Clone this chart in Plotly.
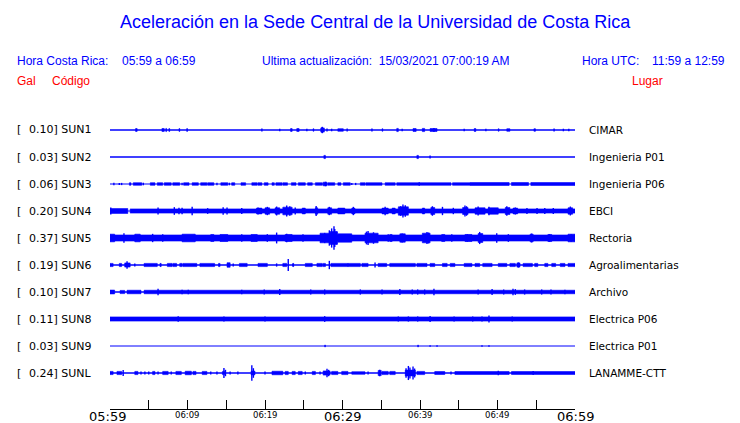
import plotly.graph_objects as go

# ---------------- data ----------------
TITLE = "Aceleración en la Sede Central de la Universidad de Costa Rica"
HORA_CR = "05:59 a 06:59"
HORA_UTC = "11:59 a 12:59"
ULTIMA = "15/03/2021 07:00:19 AM"

STATIONS = ["SUN1", "SUN2", "SUN3", "SUN4", "SUN5", "SUN6", "SUN7", "SUN8", "SUN9", "SUNL"]
SCALE_GAL = [0.10, 0.03, 0.06, 0.20, 0.37, 0.19, 0.10, 0.11, 0.03, 0.24]
PLACES = ["CIMAR", "Ingenieria P01", "Ingenieria P06", "EBCI", "Rectoria",
          "Agroalimentarias", "Archivo", "Electrica P06", "Electrica P01", "LANAMME-CTT"]

# time axis (minutes after 05:59)
TICK_MINUTES = [0, 5, 10, 15, 20, 25, 30, 35, 40, 45, 50, 55, 60]
MAJOR_MINUTES = [0, 30, 60]
MAJOR_LABELS = ["05:59", "06:29", "06:59"]
MINOR_MINUTES = [10, 20, 40, 50]
MINOR_LABELS = ["06:09", "06:19", "06:39", "06:49"]

# envelopes: blocks (t_start, t_end, half-amplitude gal), spikes (t, half-amplitude gal)
SUN1_BLOCKS = [(3.3, 3.5, 0.045), (6.7, 7.0, 0.045), (7.2, 7.3, 0.05), (7.6, 7.7, 0.045),
               (8.9, 9.0, 0.045), (9.9, 10.0, 0.045), (23.3, 23.5, 0.045), (24.1, 24.4, 0.045),
               (26.2, 26.3, 0.04), (27.2, 27.6, 0.06), (29.4, 30.1, 0.04), (35.1, 35.2, 0.04),
               (37.0, 37.2, 0.05), (39.1, 39.5, 0.045), (40.3, 40.6, 0.05), (41.3, 42.2, 0.045),
               (47.0, 47.2, 0.045), (50.1, 50.2, 0.04), (51.2, 51.6, 0.04), (54.7, 54.9, 0.04)]
SUN1_SPIKES = [(19.6, 0.05), (21.9, 0.04), (25.4, 0.04), (27.3, 0.08), (27.4, 0.10), (27.6, 0.07),
               (28.0, 0.05), (28.6, 0.04), (30.6, 0.05), (33.8, 0.05), (37.7, 0.04), (41.8, 0.06),
               (45.7, 0.04), (48.5, 0.04), (57.3, 0.05), (58.5, 0.04), (59.2, 0.04)]

SUN2_BLOCKS = [(27.6, 27.8, 0.05), (39.6, 39.8, 0.05)]
SUN2_SPIKES = [(41.3, 0.05)]

SUN3_BLOCKS = [(2.5, 2.7, 0.04), (3.0, 4.1, 0.04), (5.2, 5.8, 0.04), (6.1, 6.8, 0.04),
               (7.0, 7.9, 0.04), (8.1, 9.0, 0.04), (9.5, 10.2, 0.04), (10.6, 11.4, 0.04),
               (11.7, 12.5, 0.04), (12.6, 13.4, 0.04), (14.3, 15.2, 0.04), (15.7, 16.1, 0.04),
               (16.9, 17.5, 0.04), (18.3, 19.0, 0.04), (19.1, 19.6, 0.04), (19.9, 20.4, 0.04),
               (20.9, 21.2, 0.04), (21.4, 22.2, 0.04), (22.3, 22.9, 0.04), (23.4, 24.0, 0.04),
               (24.3, 25.2, 0.04), (25.5, 26.1, 0.04), (26.5, 27.4, 0.04), (27.5, 28.0, 0.055),
               (28.1, 29.0, 0.04), (29.4, 29.8, 0.04), (30.1, 31.0, 0.04), (32.3, 32.9, 0.04),
               (33.0, 35.1, 0.04), (35.5, 36.8, 0.04), (37.0, 44.0, 0.04), (44.2, 46.5, 0.04),
               (46.5, 51.5, 0.045), (51.8, 54.0, 0.045), (54.3, 60.0, 0.045)]
SUN3_SPIKES = [(0.5, 0.04), (1.2, 0.035), (1.5, 0.035), (4.3, 0.04), (9.3, 0.04), (13.8, 0.04),
               (15.4, 0.04), (31.2, 0.035), (31.7, 0.035), (27.8, 0.07), (39.9, 0.055)]

SUN4_BLOCKS = [(0.0, 2.3, 0.075), (2.6, 60.0, 0.065), (18.9, 19.6, 0.09), (20.0, 20.6, 0.10),
               (21.3, 21.9, 0.10), (22.3, 23.5, 0.12), (24.8, 25.2, 0.09), (26.5, 26.8, 0.10),
               (28.1, 28.6, 0.10), (29.4, 30.3, 0.09), (31.2, 31.6, 0.09), (35.1, 35.9, 0.09),
               (36.4, 36.8, 0.09), (37.2, 38.5, 0.13), (40.3, 40.6, 0.09), (41.4, 41.9, 0.11),
               (45.5, 46.2, 0.11), (47.1, 48.4, 0.10), (48.8, 50.1, 0.10), (51.0, 51.6, 0.11),
               (52.0, 52.6, 0.09), (59.1, 59.7, 0.10)]
SUN4_SPIKES = [(0.1, 0.11), (6.2, 0.11), (8.3, 0.12), (8.9, 0.10), (9.3, 0.10), (10.6, 0.13),
               (12.6, 0.09), (14.6, 0.12), (15.1, 0.11), (17.0, 0.09), (19.1, 0.11), (20.3, 0.13),
               (21.5, 0.14), (22.8, 0.17), (23.2, 0.15), (23.9, 0.11), (26.6, 0.16), (28.3, 0.13),
               (31.4, 0.13), (35.5, 0.13), (37.5, 0.15), (37.8, 0.20), (38.1, 0.18), (41.6, 0.15),
               (42.9, 0.13), (44.3, 0.10), (45.8, 0.17), (46.0, 0.15), (47.5, 0.14), (48.9, 0.13),
               (51.2, 0.15), (52.3, 0.11), (53.8, 0.09), (55.1, 0.09), (56.1, 0.09), (57.2, 0.09),
               (59.4, 0.14)]

SUN5_BLOCKS = [(0.0, 60.0, 0.095), (0.0, 0.6, 0.12), (3.2, 3.9, 0.12), (9.3, 11.0, 0.12),
               (13.0, 13.4, 0.11), (14.2, 15.2, 0.11), (18.2, 19.0, 0.11), (22.6, 23.5, 0.11),
               (27.1, 28.4, 0.15), (28.4, 29.3, 0.20), (29.4, 31.2, 0.13), (32.9, 34.6, 0.15),
               (36.1, 36.4, 0.11), (37.4, 38.1, 0.13), (40.3, 41.3, 0.15), (42.8, 43.2, 0.11),
               (45.8, 46.7, 0.11), (47.5, 48.1, 0.14), (54.2, 54.6, 0.12), (56.5, 57.0, 0.11),
               (59.1, 60.0, 0.12)]
SUN5_SPIKES = [(1.8, 0.15), (5.5, 0.13), (6.8, 0.12), (17.0, 0.12), (20.3, 0.12), (21.5, 0.17),
               (22.8, 0.13), (24.9, 0.12), (27.7, 0.16), (28.3, 0.24), (28.6, 0.30), (28.9, 0.37),
               (29.0, 0.28), (29.3, 0.20), (33.1, 0.20), (33.3, 0.22), (34.0, 0.18), (35.9, 0.12),
               (37.7, 0.14), (40.9, 0.19), (41.1, 0.17), (44.1, 0.12), (46.1, 0.12), (47.7, 0.19),
               (49.9, 0.15), (51.4, 0.12), (54.4, 0.14), (56.7, 0.12), (59.5, 0.12)]

SUN6_BLOCKS = [(0.0, 0.4, 0.05), (1.2, 1.5, 0.05), (1.9, 2.6, 0.065), (4.4, 6.1, 0.05),
               (6.5, 6.6, 0.05), (7.4, 8.0, 0.05), (8.1, 8.6, 0.05), (9.0, 9.3, 0.05),
               (9.4, 11.2, 0.05), (11.6, 13.5, 0.05), (14.0, 14.2, 0.05), (15.1, 15.5, 0.07),
               (16.7, 17.7, 0.05), (19.1, 20.3, 0.05), (22.3, 22.8, 0.05), (23.6, 23.7, 0.05),
               (25.2, 26.1, 0.05), (26.7, 27.4, 0.05), (27.5, 27.8, 0.05), (28.5, 30.7, 0.05),
               (30.7, 32.3, 0.05), (32.5, 33.3, 0.05), (34.6, 35.7, 0.05), (36.1, 39.4, 0.05),
               (39.6, 40.9, 0.05), (41.3, 41.9, 0.05), (42.9, 43.5, 0.05), (43.9, 44.5, 0.05),
               (45.7, 46.7, 0.05), (47.1, 47.7, 0.05), (48.1, 49.3, 0.05), (50.1, 51.2, 0.05),
               (51.6, 52.3, 0.05), (52.5, 52.9, 0.065), (53.3, 54.5, 0.05), (54.8, 55.2, 0.05),
               (56.1, 56.5, 0.05), (57.0, 57.5, 0.05), (58.1, 58.7, 0.05), (59.1, 60.0, 0.05)]
SUN6_SPIKES = [(2.2, 0.12), (3.2, 0.05), (6.5, 0.05), (15.9, 0.05), (21.5, 0.05), (23.0, 0.19),
               (23.6, 0.05), (28.3, 0.13), (34.2, 0.08), (52.7, 0.08)]

SUN7_BLOCKS = [(0.0, 0.6, 0.06), (1.3, 1.9, 0.05), (2.2, 4.0, 0.055), (4.4, 60.0, 0.055)]
SUN7_SPIKES = [(6.2, 0.10), (9.3, 0.07), (10.1, 0.07), (17.0, 0.07), (19.9, 0.08), (21.9, 0.09),
               (25.9, 0.08), (27.7, 0.08), (32.3, 0.08), (35.1, 0.08), (37.4, 0.09), (39.0, 0.08),
               (39.7, 0.08), (40.6, 0.08), (41.8, 0.10), (47.5, 0.08), (49.3, 0.09), (50.8, 0.08),
               (52.0, 0.10), (52.3, 0.09), (53.5, 0.08), (55.7, 0.08), (56.9, 0.08), (58.7, 0.07)]

SUN8_BLOCKS = [(0.0, 60.0, 0.065)]
SUN8_SPIKES = [(8.8, 0.085), (14.7, 0.08), (20.0, 0.08), (27.7, 0.09), (37.2, 0.075), (38.5, 0.08),
               (39.7, 0.08), (41.3, 0.09), (44.4, 0.08), (46.8, 0.08), (48.0, 0.08), (48.9, 0.11),
               (51.9, 0.08)]

SUN9_BLOCKS = [(27.7, 27.8, 0.03), (39.7, 39.8, 0.03)]
SUN9_SPIKES = [(41.3, 0.025), (42.2, 0.02), (48.0, 0.02), (48.9, 0.025)]

SUNL_BLOCKS = [(0.0, 0.4, 0.05), (0.9, 1.5, 0.05), (3.2, 3.6, 0.05), (5.5, 5.8, 0.05),
               (6.8, 7.5, 0.05), (8.5, 9.2, 0.05), (9.7, 10.5, 0.055), (10.7, 11.1, 0.05),
               (11.9, 12.5, 0.05), (14.5, 14.8, 0.05), (18.2, 18.7, 0.06), (20.9, 22.3, 0.055),
               (22.6, 23.0, 0.05), (23.5, 23.9, 0.05), (24.3, 24.8, 0.05), (26.1, 26.5, 0.05),
               (27.5, 28.4, 0.065), (28.6, 29.4, 0.05), (29.9, 30.7, 0.05), (31.2, 32.9, 0.04),
               (34.6, 35.0, 0.08), (35.1, 35.9, 0.05), (36.1, 36.8, 0.05), (38.1, 39.4, 0.09),
               (39.6, 40.6, 0.05), (41.9, 43.2, 0.045), (44.5, 51.5, 0.045), (51.8, 60.0, 0.045)]
SUNL_SPIKES = [(1.7, 0.09), (4.0, 0.05), (4.5, 0.05), (5.0, 0.05), (6.2, 0.05), (7.9, 0.05),
               (13.0, 0.05), (13.8, 0.05), (14.7, 0.16), (14.9, 0.10), (15.5, 0.05), (16.5, 0.05),
               (18.3, 0.24), (18.5, 0.15), (20.0, 0.05), (25.2, 0.05), (27.1, 0.05), (28.0, 0.13),
               (28.2, 0.10), (33.3, 0.05), (34.8, 0.10), (38.2, 0.15), (38.5, 0.22), (38.7, 0.17),
               (39.1, 0.20), (39.3, 0.14), (44.0, 0.05), (50.1, 0.07), (54.6, 0.06)]

STATION_BLOCKS = [SUN1_BLOCKS, SUN2_BLOCKS, SUN3_BLOCKS, SUN4_BLOCKS, SUN5_BLOCKS,
                  SUN6_BLOCKS, SUN7_BLOCKS, SUN8_BLOCKS, SUN9_BLOCKS, SUNL_BLOCKS]
STATION_SPIKES = [SUN1_SPIKES, SUN2_SPIKES, SUN3_SPIKES, SUN4_SPIKES, SUN5_SPIKES,
                  SUN6_SPIKES, SUN7_SPIKES, SUN8_SPIKES, SUN9_SPIKES, SUNL_SPIKES]

# ---------------- layout / style ----------------
W, H = 740, 423
PL, PR, PT, PB = 110, 575, 115, 409       # plot area in pixels
PX_PER_GAL = 32.0
ROW_PX = 27
FIRST_ROW_PX = 130
BASE_WIDTH = [1.4, 1.5, 1.2, 1.2, 1.2, 1.4, 1.3, 1.3, 1.0, 1.4]
BLUE = "#0000ff"
RED = "#ff0000"
SANS = "Liberation Sans, Arial, sans-serif"
DV = "DejaVu Sans, sans-serif"

Y_TOP = (FIRST_ROW_PX - PT) / PX_PER_GAL
Y_BOT = Y_TOP - (PB - PT) / PX_PER_GAL
ROW_GAL = ROW_PX / PX_PER_GAL


def px(x):
    return (x - PL) / (PR - PL)


def py(y):
    return (PB - y) / (PB - PT)


fig = go.Figure()
T0, T1 = TICK_MINUTES[0], TICK_MINUTES[-1]

for i, name in enumerate(STATIONS):
    y0 = -i * ROW_GAL
    # base trace line
    fig.add_trace(go.Scatter(x=[T0, T1], y=[y0, y0], mode="lines",
                             line=dict(color=BLUE, width=BASE_WIDTH[i]),
                             hoverinfo="skip", showlegend=False))
    xs, ys = [], []
    for t0, t1, a in STATION_BLOCKS[i]:
        xs += [t0, t1, t1, t0, t0, None]
        ys += [y0 - a, y0 - a, y0 + a, y0 + a, y0 - a, None]
    if xs:
        fig.add_trace(go.Scatter(x=xs, y=ys, mode="lines", fill="toself", fillcolor=BLUE,
                                 line=dict(color=BLUE, width=0.6),
                                 hoverinfo="skip", showlegend=False))
    xs, ys = [], []
    for t, a in STATION_SPIKES[i]:
        xs += [t, t, None]
        ys += [y0 - a, y0 + a, None]
    if xs:
        fig.add_trace(go.Scatter(x=xs, y=ys, mode="lines",
                                 line=dict(color=BLUE, width=1.4),
                                 hoverinfo="skip", showlegend=False))

ann = []


def text(x, y, s, size, color, family, xanchor="left", xref="paper", xshift=0):
    ann.append(dict(x=x, y=py(y), xref=xref, yref="paper", text=s, showarrow=False,
                    xanchor=xanchor, yanchor="middle", xshift=xshift,
                    font=dict(size=size, color=color, family=family)))


text(px(375), 22, TITLE, 18, BLUE, SANS, "center")
text(px(15), 61, "Hora Costa Rica:", 12, BLUE, SANS)
text(px(120), 61, HORA_CR, 12, BLUE, SANS)
text(px(260), 61, "Ultima actualización:  " + ULTIMA, 12, BLUE, SANS)
text(px(580), 61, "Hora UTC:", 12, BLUE, SANS)
text(px(650), 61, HORA_UTC, 12, BLUE, SANS)
text(px(15), 81, "Gal", 12, RED, SANS)
text(px(50), 81, "Código", 12, RED, SANS)
text(px(630), 81, "Lugar", 12, RED, SANS)

for i, name in enumerate(STATIONS):
    yp = FIRST_ROW_PX + i * ROW_PX
    text(px(15), yp, "[", 11, "black", DV)
    text(px(27), yp, "%.2f] %s" % (SCALE_GAL[i], name), 11, "black", DV)
    text(px(587), yp, PLACES[i], 10.5, "black", DV)

for m, lab in zip(MAJOR_MINUTES, MAJOR_LABELS):
    text(m, 416, lab, 13, "black", DV, "center", xref="x", xshift=-3 if m == T0 else 0)
for m, lab in zip(MINOR_MINUTES, MINOR_LABELS):
    text(m, 415, lab, 8.5, "black", DV, "center", xref="x")

fig.update_layout(
    width=W, height=H,
    margin=dict(l=PL, r=W - PR, t=PT, b=H - PB, pad=0),
    paper_bgcolor="white", plot_bgcolor="white",
    showlegend=False,
    annotations=ann,
    xaxis=dict(range=[T0, T1], showgrid=False, zeroline=False, showline=True,
               linecolor="black", linewidth=1, ticks="inside", ticklen=9,
               tickcolor="black", tickwidth=1, tickvals=TICK_MINUTES,
               showticklabels=False, fixedrange=True),
    yaxis=dict(range=[Y_BOT, Y_TOP], visible=False, fixedrange=True),
)

fig.write_html("out.html", config={"displayModeBar": False},
               post_script="document.body.style.margin='0';document.body.style.overflow='hidden';")
